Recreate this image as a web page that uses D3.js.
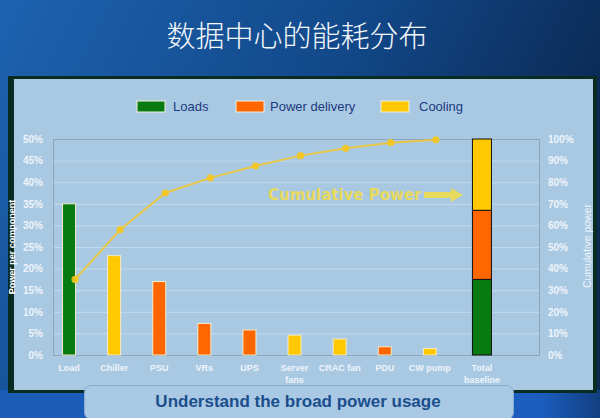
<!DOCTYPE html>
<html><head><meta charset="utf-8">
<script src="https://cdn.jsdelivr.net/npm/d3@7"></script>
<style>html,body{margin:0;padding:0;background:#0c2d57;}svg{display:block;}</style>
</head><body>
<svg id="chart" width="600" height="418"></svg>
<script>
// ---- data ----
const categories = ["Load","Chiller","PSU","VRs","UPS","Server fans","CRAC fan","PDU","CW pump"];
const categoryLabels = [["Load"],["Chiller"],["PSU"],["VRs"],["UPS"],["Server","fans"],["CRAC fan"],["PDU"],["CW pump"],["Total","baseline"]];
const componentValues = [35, 23, 17, 7.3, 5.8, 4.6, 3.7, 1.9, 1.5];   // % of total (left axis)
const componentGroups = ["Loads","Cooling","Power delivery","Power delivery","Power delivery","Cooling","Cooling","Power delivery","Cooling"];
const cumulativeValues = [35, 58, 75, 82, 87.5, 92.3, 95.7, 98.3, 99.6]; // % (right axis)
const totalCategory = "Total baseline";
const groupNames = ["Loads","Power delivery","Cooling"];
const totalStack = [35, 32, 33];                                      // % (right axis)
const leftTicks = [0,5,10,15,20,25,30,35,40,45,50];
const rightTicks = [0,10,20,30,40,50,60,70,80,90,100];
const titleText = "数据中心的能耗分布";
const bannerText = "Understand the broad power usage";

// ---- styles ----
const colors = {"Loads":"#087a12","Power delivery":"#ff6600","Cooling":"#ffc800"};
const svg = d3.select("#chart");
const W = 600, H = 418;
const plot = {left:53, right:539, top:139, bottom:355};

// background
const defs = svg.append("defs");
const bg = defs.append("linearGradient").attr("id","bg").attr("x1","0").attr("y1","0").attr("x2","1").attr("y2","0.35");
bg.append("stop").attr("offset","0").attr("stop-color","#1d63b0");
bg.append("stop").attr("offset","0.55").attr("stop-color","#124889");
bg.append("stop").attr("offset","1").attr("stop-color","#0a2850");
svg.append("rect").attr("width",W).attr("height",H).attr("fill","url(#bg)");
const bottomG = defs.append("linearGradient").attr("id","bot").attr("x1","0").attr("x2","1");
bottomG.append("stop").attr("offset","0").attr("stop-color","#1a5cb6");
bottomG.append("stop").attr("offset","0.9").attr("stop-color","#1b5ec0");
bottomG.append("stop").attr("offset","1").attr("stop-color","#123f80");
svg.append("rect").attr("x",0).attr("y",390).attr("width",W).attr("height",28).attr("fill","url(#bot)");

// title
svg.append("text").attr("x",297).attr("y",47).attr("text-anchor","middle")
  .attr("font-family","'Noto Sans CJK SC', sans-serif").attr("font-size",29).attr("font-weight",300)
  .attr("fill","#f4f8fc").text(titleText);

// panel
svg.append("rect").attr("x",8).attr("y",76).attr("width",589).attr("height",317).attr("fill","#0a2b22");
svg.append("rect").attr("x",14).attr("y",79).attr("width",579).attr("height",311).attr("fill","#a9c9e3");

// scales
const yL = d3.scaleLinear().domain([0,50]).range([plot.bottom, plot.top]);
const yR = d3.scaleLinear().domain([0,100]).range([plot.bottom, plot.top]);
const allCats = categories.concat([totalCategory]);
const x = d3.scaleBand().domain(allCats).range([46.5, 497.5]).paddingInner(0.7).paddingOuter(0.35);
const totalShift = 7, lineShift = 6;
const cx = c => x(c) + x.bandwidth()/2 + (c === totalCategory ? totalShift : 0);

// gridlines
svg.append("g").selectAll("line").data(leftTicks.filter(t => t>0 && t<50)).join("line")
  .attr("x1",plot.left).attr("x2",plot.right).attr("y1",d=>yL(d)+0.5).attr("y2",d=>yL(d)+0.5)
  .attr("stroke","#c2daee").attr("stroke-width",1);
// frame
svg.append("rect").attr("x",plot.left+0.5).attr("y",plot.top+0.5).attr("width",plot.right-plot.left).attr("height",plot.bottom-plot.top)
  .attr("fill","none").attr("stroke","#8ea6ba").attr("stroke-width",1);

// axes
const fmt = d => d + "%";
const axL = svg.append("g").attr("transform",`translate(${plot.left},0)`)
  .call(d3.axisLeft(yL).tickValues(leftTicks).tickFormat(fmt).tickSize(0).tickPadding(10));
const axR = svg.append("g").attr("transform",`translate(${plot.right},0)`)
  .call(d3.axisRight(yR).tickValues(rightTicks).tickFormat(fmt).tickSize(0).tickPadding(9));
[axL, axR].forEach(a => {
  a.select(".domain").remove();
  a.selectAll("text").attr("font-family","'Liberation Sans', Arial, sans-serif").attr("font-size",10)
   .attr("font-weight","bold").attr("fill","#eef4fa");
});

// axis titles
svg.append("text").attr("transform","translate(15,247) rotate(-90)").attr("text-anchor","middle")
  .attr("font-family","'Liberation Sans', Arial, sans-serif").attr("font-size",9).attr("font-weight","bold")
  .attr("fill","#ffffff").text("Power per component");
svg.append("text").attr("transform","translate(591,246) rotate(-90)").attr("text-anchor","middle")
  .attr("font-family","'Liberation Sans', Arial, sans-serif").attr("font-size",10.5)
  .attr("fill","#eef4fa").text("Cumulative power");

// component bars
const barW = 13;
svg.append("g").selectAll("rect").data(categories).join("rect")
  .attr("x",(c)=>cx(c)-barW/2).attr("width",barW)
  .attr("y",(c,i)=>yL(componentValues[i])).attr("height",(c,i)=>yL(0)-yL(componentValues[i]))
  .attr("fill",(c,i)=>colors[componentGroups[i]]).attr("stroke","#f3ecc8").attr("stroke-width",1);

// total stacked bar (right axis)
const totW = 19;
const stackRows = [Object.fromEntries(groupNames.map((g,i)=>[g,totalStack[i]]))];
const stacked = d3.stack().keys(groupNames)(stackRows);
svg.append("g").selectAll("rect").data(stacked).join("rect")
  .attr("x",cx(totalCategory)-totW/2).attr("width",totW)
  .attr("y",d=>yR(d[0][1])).attr("height",d=>yR(d[0][0])-yR(d[0][1]))
  .attr("fill",d=>colors[d.key]).attr("stroke","#111").attr("stroke-width",1);

// cumulative line
const line = d3.line().x((d,i)=>cx(categories[i])+lineShift).y(d=>yR(d));
svg.append("path").datum(cumulativeValues).attr("d",line).attr("fill","none")
  .attr("stroke","#f2c62a").attr("stroke-width",2).attr("opacity",0.85);
svg.append("g").selectAll("circle").data(cumulativeValues).join("circle")
  .attr("cx",(d,i)=>cx(categories[i])+lineShift).attr("cy",d=>yR(d)).attr("r",3.6)
  .attr("fill","#f5c61c").attr("opacity",0.9);

// Cumulative Power annotation
svg.append("text").attr("x",268).attr("y",200)
  .attr("font-family","'DejaVu Sans', Verdana, sans-serif").attr("font-size",15).attr("font-weight","bold")
  .attr("fill","#eedc4e").attr("opacity",0.9).text("Cumulative Power");
const ay = 195;
svg.append("path")
  .attr("d",`M424,${ay-3}L451,${ay-3}L451,${ay-7}L463,${ay}L451,${ay+7}L451,${ay+3}L424,${ay+3}Z`)
  .attr("fill","#eedc4e").attr("opacity",0.9);

// category labels
const lab = svg.append("g").selectAll("text").data(allCats).join("text")
  .attr("text-anchor","middle").attr("font-family","'Liberation Sans', Arial, sans-serif")
  .attr("font-size",9).attr("font-weight","bold").attr("fill","#eef4fa");
lab.each(function(c,i){
  const t = d3.select(this);
  categoryLabels[i].forEach((s,j)=>{
    t.append("tspan").attr("x",cx(c)).attr("y",371 + j*12).text(s);
  });
});

// legend
const legX = [137, 236, 381];
const leg = svg.append("g").selectAll("g").data(groupNames).join("g")
  .attr("transform",(d,i)=>`translate(${legX[i]},101)`);
leg.append("rect").attr("width",28).attr("height",11).attr("fill",d=>colors[d])
  .attr("stroke","#eef2dc").attr("stroke-width",1);
leg.append("text").attr("x",d=> d==="Cooling" ? 38 : (d==="Loads" ? 36 : 34)).attr("y",10)
  .attr("font-family","'Liberation Sans', Arial, sans-serif").attr("font-size",13)
  .attr("fill","#1c3a80").text(d=>d);

// banner
svg.append("rect").attr("x",84.5).attr("y",385.5).attr("width",429).attr("height",34).attr("rx",7)
  .attr("fill","#a9c8e4").attr("stroke","#86aad0").attr("stroke-width",1);
svg.append("text").attr("x",298).attr("y",407).attr("text-anchor","middle")
  .attr("font-family","'Liberation Sans', Arial, sans-serif").attr("font-size",17).attr("font-weight","bold")
  .attr("fill","#1a4f8c").text(bannerText);
</script>
</body></html>
